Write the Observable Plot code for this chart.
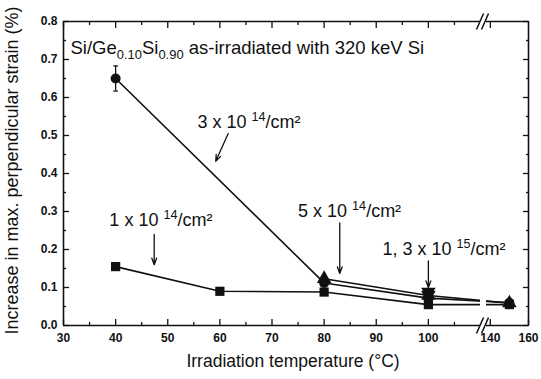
<!DOCTYPE html>
<html>
<head>
<meta charset="utf-8">
<script src="https://cdn.jsdelivr.net/npm/d3@7"></script>
<script src="https://cdn.jsdelivr.net/npm/@observablehq/plot@0.6"></script>
<style>
  body { margin: 0; background: #fff; }
  #chart svg { display: block; }
</style>
</head>
<body>
<div id="chart"></div>
<script>
// Irradiation temperature (°C) and increase in max. perpendicular strain (%)
const temps1e14 = [40, 60, 80, 100, 150];
const strain1e14 = [0.155, 0.090, 0.088, 0.055, 0.055];

const temps3e14 = [40, 80, 100, 150];
const strain3e14 = [0.650, 0.112, 0.072, 0.060];

const temps5e14 = [80, 100, 150];
const strain5e14 = [0.123, 0.079, 0.059];

const temps1e15 = [100, 100];
const strain1e15 = [0.088, 0.080];

// error bar on the 40 °C point of the 3e14 series
const errLow = [0.617];
const errHigh = [0.683];

// axis break between 100 and 140 °C
const breakLo = 110, breakHi = 138;

const xMajor = [30, 40, 50, 60, 70, 80, 90, 100, 140, 160];
const xMinor = [35, 45, 55, 65, 75, 85, 95, 105];
const yMajor = [0, 0.1, 0.2, 0.3, 0.4, 0.5, 0.6, 0.7, 0.8];
const yMinor = [0.05, 0.15, 0.25, 0.35, 0.45, 0.55, 0.65, 0.75];

// annotation labels and their arrows
const noteText = ["3 x 10 ^{14}/cm²", "1 x 10 ^{14}/cm²", "5 x 10 ^{14}/cm²", "1, 3 x 10 ^{15}/cm²"];
const noteX = [55.7, 38.8, 75.0, 91.2];
const noteY = [0.535, 0.278, 0.300, 0.200];
const arrowX1 = [61.6, 47.4, 83.0, 100.0];
const arrowY1 = [0.505, 0.240, 0.270, 0.170];
const arrowX2 = [59.2, 47.4, 83.0, 100.0];
const arrowY2 = [0.432, 0.160, 0.137, 0.100];

const titleText = "Si/Ge_{0.10}Si_{0.90} as-irradiated with 320 keV Si";

const toRows = (xs, ys, dose) => xs.map((x, i) => ({x, y: ys[i], dose}));
const s1 = toRows(temps1e14, strain1e14, "1e14");
const s3 = toRows(temps3e14, strain3e14, "3e14");
const s5 = toRows(temps5e14, strain5e14, "5e14");
const s15 = toRows(temps1e15, strain1e15, "1e15");
const errRows = errLow.map((lo, i) => ({x: temps3e14[i], lo, hi: errHigh[i]}));
const notes = noteText.map((t, i) => ({t, x: noteX[i], y: noteY[i]}));
const arrows = arrowX1.map((x1, i) => ({x1, y1: arrowY1[i], x2: arrowX2[i], y2: arrowY2[i]}));

const W = 541, H = 379;
const mL = 63, mR = 13, mT = 21, mB = 54;

// short horizontal cap for error bars
const capSymbol = {draw(ctx, size) { const w = Math.sqrt(size) / 2; ctx.moveTo(-w, 0); ctx.lineTo(w, 0); }};
// double slash marking the broken axis
const breakSymbol = {draw(ctx) {
  ctx.moveTo(-7, 8); ctx.lineTo(0, -8);
  ctx.moveTo(-2, 8); ctx.lineTo(5, -8);
}};

const ink = "#111";
const lineStyle = {x: "x", y: "y", stroke: ink, strokeWidth: 1.6};
const tickFont = {fontSize: 12, fontWeight: "bold", fill: ink};
const tickStyle = {text: null, label: null, stroke: ink, strokeWidth: 1.3};

const chart = Plot.plot({
  width: W, height: H,
  marginLeft: mL, marginRight: mR, marginTop: mT, marginBottom: mB,
  style: {fontFamily: "'Liberation Sans', Arial, sans-serif", fontSize: "12px", background: "#fff", color: ink},
  x: {type: "linear", domain: [30, breakLo, breakHi, 160], range: [mL, 480, 486, W - mR]},
  y: {domain: [0, 0.8], range: [H - mB, mT]},
  marks: [
    Plot.line(s3, lineStyle),
    Plot.line(s5, lineStyle),
    Plot.line(s1, lineStyle),
    // gap through the data at the axis break
    Plot.rect({length: 1}, {x1: breakLo, x2: breakHi, y1: 0, y2: 0.8, fill: "#fff"}),
    Plot.ruleX(errRows, {x: "x", y1: "lo", y2: "hi", stroke: ink, strokeWidth: 1.3}),
    Plot.dot(errRows, {x: "x", y: "lo", symbol: capSymbol, r: 2.6, stroke: ink, strokeWidth: 1.3}),
    Plot.dot(errRows, {x: "x", y: "hi", symbol: capSymbol, r: 2.6, stroke: ink, strokeWidth: 1.3}),
    Plot.dot(s1, {x: "x", y: "y", symbol: "square", r: 5.2, fill: ink}),
    Plot.dot(s3, {x: "x", y: "y", symbol: "circle", r: 5, fill: ink}),
    Plot.dot(s5, {x: "x", y: "y", symbol: "triangle", r: 5.4, fill: ink}),
    Plot.dot(s15, {x: "x", y: "y", symbol: "triangle", rotate: 180, r: 5.4, fill: ink}),
    // frame, broken at the axis break
    Plot.ruleY([0, 0.8], {x1: 30, x2: breakLo, stroke: ink, strokeWidth: 1.6}),
    Plot.ruleY([0, 0.8], {x1: breakHi, x2: 160, stroke: ink, strokeWidth: 1.6}),
    Plot.ruleX([30, 160], {y1: 0, y2: 0.8, stroke: ink, strokeWidth: 1.6}),
    Plot.dot([0, 0.8], {x: (breakLo + breakHi) / 2, y: d => d, symbol: breakSymbol, stroke: ink, strokeWidth: 1.5, fill: "none"}),
    // inward ticks on all four sides
    Plot.axisX(xMajor, {anchor: "bottom", tickSize: -6, ...tickStyle}),
    Plot.axisX(xMinor, {anchor: "bottom", tickSize: -3, ...tickStyle}),
    Plot.axisX(xMajor.filter(d => d !== 160), {anchor: "top", tickSize: -6, ...tickStyle}),
    Plot.axisX(xMinor, {anchor: "top", tickSize: -3, ...tickStyle}),
    Plot.axisY(yMajor, {anchor: "left", tickSize: -6, ...tickStyle}),
    Plot.axisY(yMinor, {anchor: "left", tickSize: -3, ...tickStyle}),
    Plot.axisY(yMajor, {anchor: "right", tickSize: -6, ...tickStyle}),
    Plot.axisY(yMinor, {anchor: "right", tickSize: -3, ...tickStyle}),
    // tick labels
    Plot.axisX(xMajor, {anchor: "bottom", tickSize: 0, tickPadding: 8, label: null, tickFormat: d => String(d), ...tickFont}),
    Plot.axisY(yMajor, {anchor: "left", tickSize: 0, tickPadding: 6, label: null, tickFormat: d3.format(".1f"), ...tickFont}),
    // axis titles
    Plot.text(["Increase in max. perpendicular strain (%)"], {frameAnchor: "left", textAnchor: "middle", dx: -51, dy: -3, rotate: -90, fontSize: 18, fill: ink}),
    Plot.text(["Irradiation temperature (°C)"], {frameAnchor: "bottom", dx: -3, dy: 41, fontSize: 17.5, fill: ink}),
    // panel title
    Plot.text([titleText], {frameAnchor: "top-left", dx: 7, dy: 19, textAnchor: "start", fontSize: 18.5, fill: ink}),
    // dose annotations
    Plot.text(notes, {x: "x", y: "y", text: "t", textAnchor: "start", fontSize: 18, fill: ink}),
    Plot.arrow(arrows, {x1: "x1", y1: "y1", x2: "x2", y2: "y2", stroke: ink, strokeWidth: 1.3, headLength: 8, headAngle: 40})
  ]
});

// render ^{..} and _{..} as raised / lowered smaller text
function richText(svg) {
  svg.querySelectorAll("text").forEach(t => {
    const s = t.textContent;
    if (!/[\^_]\{/.test(s)) return;
    const parts = [];
    const re = /([\^_])\{([^}]*)\}/g;
    let last = 0, m;
    while ((m = re.exec(s))) {
      if (m.index > last) parts.push({text: s.slice(last, m.index), shift: 0});
      parts.push({text: m[2], shift: m[1] === "^" ? -1 : 1});
      last = re.lastIndex;
    }
    if (last < s.length) parts.push({text: s.slice(last), shift: 0});
    t.textContent = "";
    let cur = 0;
    for (const p of parts) {
      const ts = document.createElementNS("http://www.w3.org/2000/svg", "tspan");
      const off = p.shift < 0 ? -7 : p.shift > 0 ? 5 : 0;
      ts.setAttribute("dy", off - cur);
      cur = off;
      if (p.shift) ts.setAttribute("font-size", "0.7em");
      ts.textContent = p.text;
      t.appendChild(ts);
    }
  });
}
richText(chart);
document.getElementById("chart").appendChild(chart);
</script>
</body>
</html>
